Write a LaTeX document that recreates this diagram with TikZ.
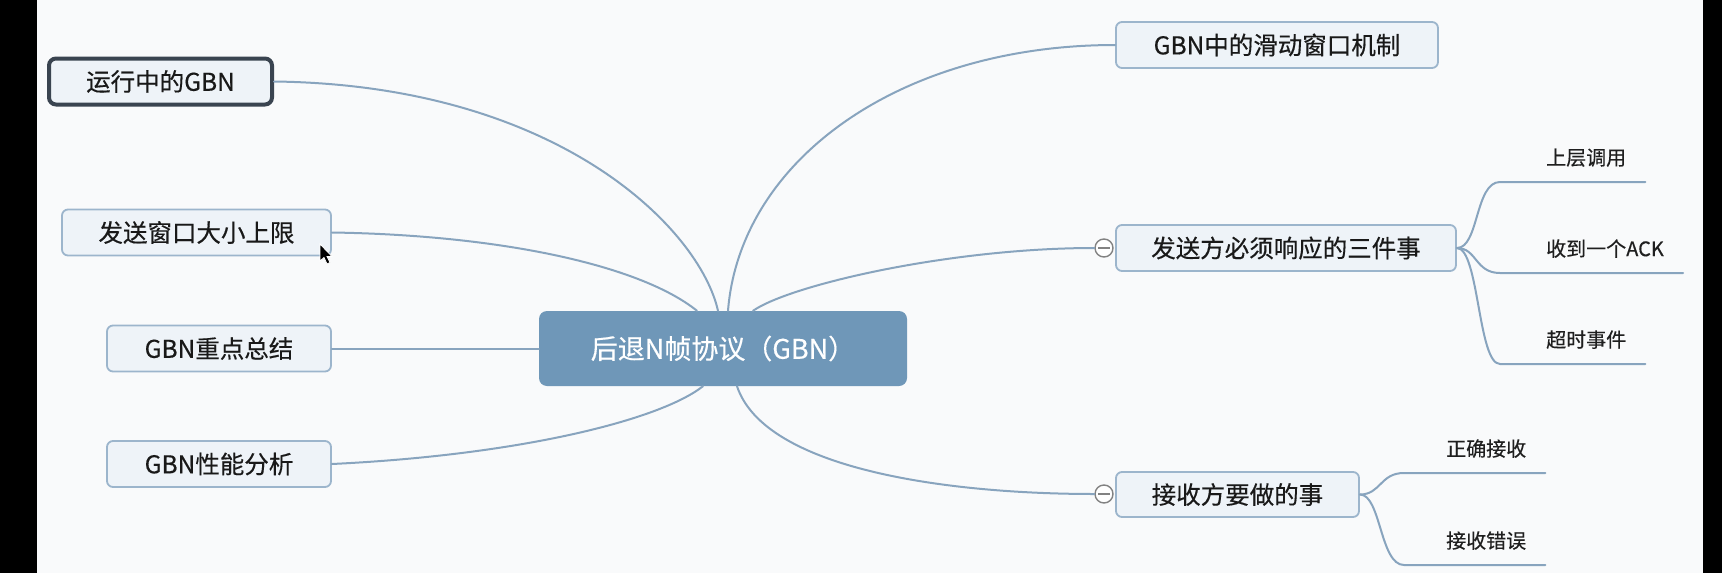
\documentclass[tikz,border=0pt]{standalone}
\usepackage{fontspec}
\setmainfont{Noto Sans CJK SC}[FakeBold=0.4]
\usetikzlibrary{positioning}
\definecolor{linkblue}{RGB}{136,164,190}
\definecolor{boxedge}{RGB}{156,181,204}
\definecolor{boxfill}{RGB}{238,243,248}
\definecolor{rootfill}{RGB}{111,151,184}
\definecolor{pagebg}{RGB}{249,250,251}
\definecolor{seledge}{RGB}{58,68,80}
\definecolor{foldgray}{RGB}{130,130,130}
\tikzset{
  topic/.style={draw=boxedge,line width=1.8pt,fill=boxfill,rounded corners=6pt,
    minimum height=46pt,inner sep=0pt,text=black!90,font=\fontsize{24.5}{28}\selectfont},
  rootbox/.style={fill=rootfill,rounded corners=8pt,minimum width=368pt,minimum height=75pt,
    inner sep=0pt,text=white,font=\fontsize{27}{32}\selectfont},
  branch/.style={draw=linkblue,line width=2pt,line cap=round},
  leaf/.style={inner sep=0pt,text=black!88,font=\fontsize{20}{24}\selectfont},
  fold/.style={circle,draw=foldgray,line width=1.4pt,fill=white,minimum size=18pt,inner sep=0pt},
}
\begin{document}
\begin{tikzpicture}[x=1pt,y=-1pt]
% screen frame
\fill[black] (0,0) rectangle (1722,573);
\fill[pagebg] (37,0) rectangle (1703,573);
\useasboundingbox (0,0) rectangle (1722,573);

% central topic
\node[rootbox] (root) at (723,348.5) {后退N帧协议（GBN）};

% left topics
\node[topic,minimum width=223pt,minimum height=46pt,draw=seledge,line width=4pt,rounded corners=7pt] (run) at (160.5,81.5) {运行中的GBN};
\node[topic,minimum width=269pt] (win) at (196.5,232.5) {发送窗口大小上限};
\node[topic,minimum width=224pt] (sum) at (219,348.5) {GBN重点总结};
\node[topic,minimum width=224pt] (perf) at (219,464) {GBN性能分析};

% right topics
\node[topic,minimum width=322pt] (slide) at (1277,45) {GBN中的滑动窗口机制};
\node[topic,minimum width=340pt] (send) at (1286,248) {发送方必须响应的三件事};
\node[topic,minimum width=243pt,minimum height=45pt] (recv) at (1237.5,494.5) {接收方要做的事};
\node[fold] (sendfold) at (1104,248) {};
\node[fold] (recvfold) at (1104,494) {};
\draw[foldgray,line width=1.4pt] ([xshift=-6pt]sendfold.center) -- ([xshift=6pt]sendfold.center);
\draw[foldgray,line width=1.4pt] ([xshift=-6pt]recvfold.center) -- ([xshift=6pt]recvfold.center);

% main branches
\draw[branch] ([xshift=-5pt]root.north) .. controls (700,230) and (560,85) .. (run.east);
\draw[branch] ([xshift=-26pt]root.north) .. controls (640,265) and (500,235) .. (win.east);
\draw[branch] (root.west) -- (sum.east);
\draw[branch] ([xshift=-20pt]root.south) .. controls (660,420) and (520,455) .. (perf.east);
\draw[branch] ([xshift=5pt]root.north) .. controls (740,160) and (900,45) .. (slide.west);
\draw[branch] ([xshift=30pt]root.north) .. controls (790,285) and (950,248) .. (sendfold.west);
\draw[branch] ([xshift=14pt]root.south) .. controls (765,470) and (950,494) .. (recvfold.west);

% sub topics
\coordinate (upA) at (1500,182);
\coordinate (ackA) at (1500,273);
\coordinate (toA) at (1500,364);
\coordinate (okA) at (1404,473);
\coordinate (errA) at (1404,565);
\node[leaf,above right=15pt and 46pt of upA] (up) {上层调用};
\node[leaf,above right=15pt and 46pt of ackA] (ack) {收到一个ACK};
\node[leaf,above right=15pt and 46pt of toA] (tout) {超时事件};
\node[leaf,above right=15pt and 42pt of okA] (ok) {正确接收};
\node[leaf,above right=15pt and 42pt of errA] (err) {接收错误};
\draw[branch] (send.east) .. controls +(22,0) and +(-25,0) .. (upA) -- ([xshift=19pt]up.east |- upA);
\draw[branch] (send.east) .. controls +(20,0) and +(-25,0) .. (ackA) -- ([xshift=19pt]ack.east |- ackA);
\draw[branch] (send.east) .. controls +(22,0) and +(-22,0) .. (toA) -- ([xshift=19pt]tout.east |- toA);
\draw[branch] (recv.east) .. controls +(21,0) and +(-24,0) .. (okA) -- ([xshift=19pt]ok.east |- okA);
\draw[branch] (recv.east) .. controls +(21,0) and +(-24,0) .. (errA) -- ([xshift=19pt]err.east |- errA);

% pointer
\fill[black,draw=white,line width=0.8pt] (320,244) -- (320,261) -- (324,257.5) -- (327,264) -- (330,262.5) -- (327,256.5) -- (332,256.5) -- cycle;
\end{tikzpicture}
\end{document}
